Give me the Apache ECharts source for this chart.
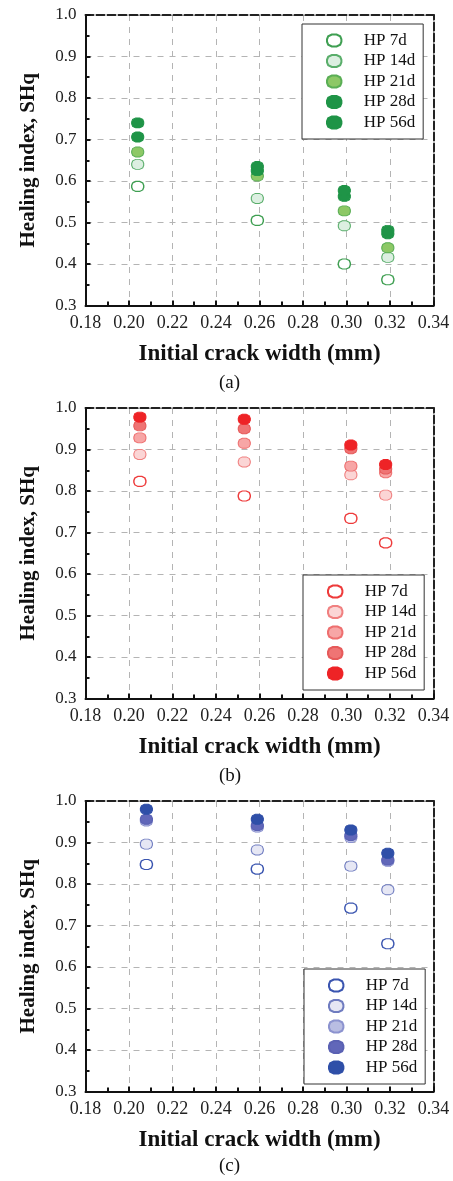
<!DOCTYPE html>
<html>
<head>
<meta charset="utf-8">
<script src="https://cdn.jsdelivr.net/npm/echarts@6/dist/echarts.min.js"></script>
<style>
  html, body { margin: 0; padding: 0; background: #fff; }
  #chart { width: 453px; height: 1181px; }
</style>
</head>
<body>
<div id="chart"></div>
<script>
// Healing index vs initial crack width, three mixes (a), (b), (c)
const seriesLabels = ['HP 7d', 'HP 14d', 'HP 21d', 'HP 28d', 'HP 56d'];
const xTicks = ['0.18', '0.20', '0.22', '0.24', '0.26', '0.28', '0.30', '0.32', '0.34'];
const yTicks = ['0.3', '0.4', '0.5', '0.6', '0.7', '0.8', '0.9', '1.0'];

// (a)
const widthA = [0.204, 0.259, 0.299, 0.319];
const a7  = [0.587, 0.505, 0.400, 0.362];
const a14 = [0.640, 0.558, 0.492, 0.416];
const a21 = [0.670, 0.612, 0.528, 0.439];
const a28 = [0.706, 0.625, 0.563, 0.473];
const a56 = [0.740, 0.635, 0.577, 0.481];

// (b)
const widthB = [0.205, 0.253, 0.302, 0.318];
const b7  = [0.823, 0.788, 0.734, 0.675];
const b14 = [0.888, 0.870, 0.839, 0.790];
const b21 = [0.928, 0.915, 0.860, 0.844];
const b28 = [0.957, 0.950, 0.902, 0.853];
const b56 = [0.978, 0.973, 0.911, 0.864];

// (c)
const widthC = [0.208, 0.259, 0.302, 0.319];
const c7  = [0.847, 0.836, 0.742, 0.656];
const c14 = [0.896, 0.882, 0.843, 0.786];
const c21 = [0.952, 0.937, 0.912, 0.855];
const c28 = [0.956, 0.941, 0.917, 0.858];
const c56 = [0.980, 0.956, 0.930, 0.874];

const panels = [
  { tag: '(a)', x: widthA, ys: [a7, a14, a21, a28, a56], top: 15, caption: 385,
    fills: ['#ffffff', '#dcefe1', '#8dc866', '#1f9447', '#1f9447'],
    borders: ['#3f9f52', '#5aae6b', '#5aae55', '#1f9447', '#1f9447'],
    legend: { left: 302, top: 24 } },
  { tag: '(b)', x: widthB, ys: [b7, b14, b21, b28, b56], top: 408, caption: 778,
    fills: ['#ffffff', '#fbd5d5', '#f7a6a6', '#ef7474', '#ee2326'],
    borders: ['#ee3b3b', '#f08080', '#ee6f6f', '#e65a5a', '#ee2326'],
    legend: { left: 303, top: 575 } },
  { tag: '(c)', x: widthC, ys: [c7, c14, c21, c28, c56], top: 801, caption: 1168,
    fills: ['#ffffff', '#e6e7f4', '#b9bde2', '#6167b9', '#2f4fa8'],
    borders: ['#3a55b0', '#6f7cc0', '#8c93cf', '#5a61b3', '#2f4fa8'],
    legend: { left: 304, top: 969 } }
];

// rounded octagon marker
const marker = 'path://M4,0 L8,0 L11,1.5 L12,4 L12,6 L11,8.5 L8,10 L4,10 L1,8.5 L0,6 L0,4 L1,1.5 Z';
const serif = '"Liberation Serif", "Times New Roman", serif';
const plotH = 290.5, plotLeft = 85.5, plotRight = 453 - 433.5;

const option = {
  backgroundColor: '#fff',
  animation: false,
  grid: [], xAxis: [], yAxis: [], series: [], legend: [], graphic: []
};

panels.forEach((p, i) => {
  option.grid.push({ left: plotLeft, right: plotRight, top: p.top, height: plotH });

  // bottom axis with labels and inward ticks
  option.xAxis.push({
    type: 'value', gridIndex: i, min: 0.18, max: 0.34, interval: 0.02,
    name: 'Initial crack width (mm)', nameLocation: 'middle', nameGap: 37,
    nameTextStyle: { fontFamily: serif, fontWeight: 'bold', fontSize: 23, color: '#111' },
    axisLine: { show: true, onZero: false, lineStyle: { color: '#111', width: 2 } },
    axisTick: { show: true, inside: true, length: 5, lineStyle: { color: '#111', width: 2 } },
    minorTick: { show: true, splitNumber: 2, length: 4, lineStyle: { color: '#111', width: 2 } },
    axisLabel: { margin: 9, fontFamily: serif, fontSize: 18, color: '#222',
      formatter: v => xTicks[Math.round((v - 0.18) / 0.02)] },
    splitLine: { show: true, lineStyle: { color: '#b4b4b4', type: [6, 6], width: 1 } }
  });
  // top frame edge
  option.xAxis.push({
    type: 'value', gridIndex: i, position: 'top', min: 0.18, max: 0.34,
    axisLine: { show: true, onZero: false, lineStyle: { color: '#222', width: 2, type: [8, 3] } },
    axisTick: { show: false }, axisLabel: { show: false }, splitLine: { show: false }
  });

  option.yAxis.push({
    type: 'value', gridIndex: i, min: 0.3, max: 1.0, interval: 0.1,
    name: 'Healing index, SHq', nameLocation: 'middle', nameGap: 46,
    nameTextStyle: { fontFamily: serif, fontWeight: 'bold', fontSize: 21, color: '#111' },
    axisLine: { show: true, onZero: false, lineStyle: { color: '#111', width: 2 } },
    axisTick: { show: true, inside: true, length: 5, lineStyle: { color: '#111', width: 2 } },
    minorTick: { show: true, splitNumber: 2, length: 4, lineStyle: { color: '#111', width: 2 } },
    axisLabel: { margin: 9, fontFamily: serif, fontSize: 17, color: '#222',
      formatter: v => yTicks[Math.round((v - 0.3) / 0.1)] },
    splitLine: { show: true, lineStyle: { color: '#b4b4b4', type: [6, 6], width: 1 } }
  });
  // right frame edge
  option.yAxis.push({
    type: 'value', gridIndex: i, position: 'right', min: 0.3, max: 1.0,
    axisLine: { show: true, onZero: false, lineStyle: { color: '#222', width: 2, type: [8, 3] } },
    axisTick: { show: false }, axisLabel: { show: false }, splitLine: { show: false }
  });

  const names = [];
  seriesLabels.forEach((lab, k) => {
    const name = lab + ' ' + p.tag;
    names.push(name);
    option.series.push({
      type: 'scatter', name: name, xAxisIndex: i * 2, yAxisIndex: i * 2,
      symbol: marker, symbolSize: [12, 10], z: 3 + k,
      itemStyle: { color: p.fills[k], borderColor: p.borders[k], borderWidth: k === 0 ? 1.3 : 1, opacity: 1 },
      emphasis: { disabled: true },
      data: p.x.map((w, j) => [w, p.ys[k][j]])
    });
  });

  option.legend.push({
    data: names, orient: 'vertical', left: p.legend.left, top: p.legend.top,
    padding: [8, 8, 8, 24], itemGap: 3.5, itemWidth: 15, itemHeight: 12,
    borderColor: '#333', borderWidth: 1, backgroundColor: '#fff',
    selectedMode: false,
    textStyle: { fontFamily: serif, fontSize: 17, color: '#111', padding: [0, 0, 0, 17] },
    formatter: n => n.replace(/ \(\w\)$/, '')
  });

  option.graphic.push({
    type: 'text', left: 231 - 12, top: p.caption - 11,
    style: { text: p.tag, font: '19px ' + serif, fill: '#111' }
  });
});

const chart = echarts.init(document.getElementById('chart'), null, { renderer: 'canvas' });
chart.setOption(option);
</script>
</body>
</html>
